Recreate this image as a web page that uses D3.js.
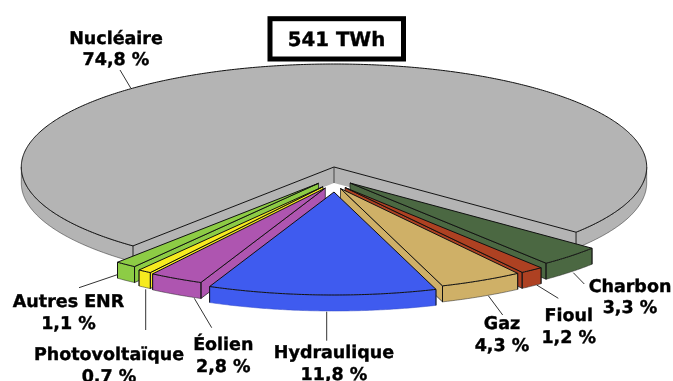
<!DOCTYPE html>
<html><head><meta charset="utf-8">
<script src="https://cdn.jsdelivr.net/npm/d3@7"></script>
<style>html,body{margin:0;padding:0;background:#fff;overflow:hidden}svg{display:block}
text{font-family:"DejaVu Sans",sans-serif;font-weight:bold;fill:#000;stroke:#000;stroke-width:0.4;text-rendering:geometricPrecision;filter:blur(0.3px)}</style></head>
<body><svg id="c" width="673" height="381"></svg>
<script>
// --- data ---
const sources = ["Nucléaire","Charbon","Fioul","Gaz","Hydraulique","Éolien","Photovoltaïque","Autres ENR"];
const shares  = [74.8,3.3,1.2,4.3,11.8,2.8,0.7,1.1];
const shareLabels = ["74,8 %","3,3 %","1,2 %","4,3 %","11,8 %","2,8 %","0,7 %","1,1 %"];
const totalLabel = "541 TWh";

// --- styling & layout ---
const colors = ["#b4b4b4","#4b6842","#ae4122","#cfb067","#3f5bef","#ae55b0","#f6ea1f","#8dcc45"];
const explode = [[0,0],[16,16],[11,20.5],[6.5,21.5],[0,25],[-8.7,21],[-11,19.7],[-15.5,16.3]];
const labelPos = [[116,43.7],[630,291.7],[568.7,321],[502,329.3],[334,358],[223.3,350],[109,360],[68.5,307.3]];
const leaders = [[120,70,130.7,88],[573.3,272.7,584.3,284],[536.7,285,558.3,298.3],[488.3,295.7,502.7,315],
                 [326.7,311.7,326.7,340.7],[194.3,298.3,211.7,327.7],[145.7,289.3,145.7,330],[79,287.7,117.3,274.7]];
const drawOrder = [0,1,2,3,7,6,5,4];
const depth = 16;

const svg = d3.select("#c");
const x = d3.scaleLinear().domain([-1,1]).range([21.3,646.7]);
const y = d3.scaleLinear().domain([-1,1]).range([64,270]);
const deg = Math.PI/180;
const pie = d3.pie().sort(null).startAngle(220*deg).endAngle(580*deg);
const arcs = pie(shares);

// pie angle (0 = north, clockwise) to unit-circle coordinates
const ux = a => Math.sin(a), uy = a => -Math.cos(a);
const line = d3.line();
const sweep = (a0,a1) => { const n = Math.max(2,Math.ceil((a1-a0)/(0.5*deg))); return d3.range(n+1).map(i=>a0+(a1-a0)*i/n); };
const pt = (a,o,dz=0) => [x(ux(a))+o[0], y(uy(a))+o[1]+dz];
const ctr = (o,dz=0) => [x(0)+o[0], y(0)+o[1]+dz];

function outerWalls(i,d){
  // parts of the rim that face the viewer: pie angle in (90°,270°) modulo 360°
  const segs=[]; 
  for(let k=0;k<2;k++){
    const lo=(90+360*k)*deg, hi=(270+360*k)*deg;
    const a0=Math.max(d.startAngle,lo), a1=Math.min(d.endAngle,hi);
    if(a1>a0) segs.push([a0,a1]);
  }
  const o=explode[i];
  segs.forEach(([a0,a1])=>{
    const top=sweep(a0,a1).map(a=>pt(a,o));
    const bot=sweep(a0,a1).reverse().map(a=>pt(a,o,depth));
    svg.append("path").attr("d",line(top.concat(bot))+"Z")
      .attr("fill",colors[i]).attr("stroke",i===4?"#3348c4":"#222").attr("stroke-width",0.5);
  });
}
function sideWall(i,a){
  const o=explode[i];
  svg.append("path").attr("d",line([ctr(o),pt(a,o),pt(a,o,depth),ctr(o,depth)])+"Z")
    .attr("fill",colors[i]).attr("stroke",i===0?"none":"#111").attr("stroke-width",0.7);
}
function vert(i,a){
  const o=explode[i];
  svg.append("path").attr("d",line([pt(a,o),pt(a,o,depth)]))
    .attr("fill","none").attr("stroke",i===0?"#444":"#111").attr("stroke-width",1);
}

drawOrder.forEach(i=>{
  const d=arcs[i], o=explode[i];
  const mid=((d.startAngle+d.endAngle)/2)%(2*Math.PI);
  if(i===0){
    sideWall(0,d.startAngle); sideWall(0,d.endAngle);
    outerWalls(0,d);
    svg.append("path").attr("d",line([ctr(o),ctr(o,depth)])).attr("stroke","#444").attr("stroke-width",1);
    vert(0,d.startAngle); vert(0,d.endAngle);
  } else {
    if(i!==4) sideWall(i, mid<Math.PI ? d.endAngle : d.startAngle);
    outerWalls(i,d);
    vert(i,d.startAngle); vert(i,d.endAngle);
  }
  const rim=sweep(d.startAngle,d.endAngle).map(a=>pt(a,o));
  svg.append("path").attr("d",line([ctr(o)].concat(rim))+"Z")
    .attr("fill",colors[i]).attr("stroke","#111").attr("stroke-width",1).attr("stroke-linejoin","round");
});

// leader lines
svg.selectAll("line.lead").data(leaders).join("line").attr("class","lead")
  .attr("x1",d=>d[0]).attr("y1",d=>d[1]).attr("x2",d=>d[2]).attr("y2",d=>d[3])
  .attr("stroke","#333").attr("stroke-width",1);

// labels
sources.forEach((s,i)=>{
  const t=svg.append("text").attr("text-anchor","middle").attr("font-size",17.5);
  t.append("tspan").attr("x",labelPos[i][0]).attr("y",labelPos[i][1]).text(s);
  t.append("tspan").attr("x",labelPos[i][0]).attr("y",labelPos[i][1]+21.5).text(shareLabels[i]);
});

// total box
svg.append("rect").attr("x",270).attr("y",18.7).attr("width",133.5).attr("height",40.3)
  .attr("fill","#fff").attr("stroke","#000").attr("stroke-width",5);
svg.append("text").attr("x",336.5).attr("y",45.7).attr("text-anchor","middle").attr("font-size",19.8).text(totalLabel);
</script></body></html>
